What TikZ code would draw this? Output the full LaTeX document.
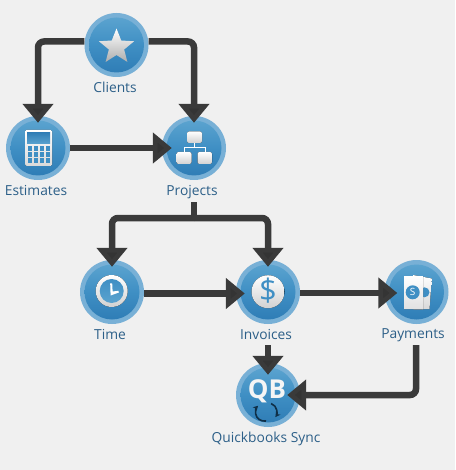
\documentclass[tikz,border=0pt]{standalone}
\usepackage{fontspec}
\setmainfont{Open Sans}
\usetikzlibrary{arrows.meta,shapes.geometric,calc}
\definecolor{bgc}{HTML}{F0F0F0}
\definecolor{ringc}{HTML}{78B0D6}
\definecolor{topc}{HTML}{5AA3CF}
\definecolor{botc}{HTML}{2F7DB6}
\definecolor{linec}{HTML}{3A3A3A}
\definecolor{tipc}{HTML}{343434}
\definecolor{labc}{HTML}{2C5F88}
\definecolor{iconb}{HTML}{3F8FC4}
\definecolor{navy}{HTML}{0F2F47}
\tikzset{
  ring/.style={circle,minimum size=64pt,inner sep=0pt,fill=ringc},
  core/.style={circle,minimum size=55pt,inner sep=0pt,top color=topc,bottom color=botc,middle color=iconb},
  lab/.style={text=labc,font=\fontsize{13.8}{15}\selectfont,inner sep=0pt,text height=10pt,text depth=3pt},
  conn/.style={draw=linec,line width=6.5pt,rounded corners=6pt,-{Triangle[length=19pt,width=30pt,fill=tipc]}},
  plain/.style={draw=linec,line width=6.5pt,rounded corners=6pt},
  whiteicon/.style={top color=white,bottom color=black!18},
  key/.style={fill=iconb},
  cyc/.style={draw=navy,line width=1.6pt,-{Stealth[length=5pt,width=5.5pt]}}
}
\newcommand{\disc}[3]{\node[ring] (#1) at (#2,#3) {}; \node[core] (#1c) at (#1) {};}
\begin{document}
\begin{tikzpicture}[x=1pt,y=-1pt]
\useasboundingbox (0,0) rectangle (455,470);
\fill[bgc] (0,0) rectangle (455,470);
% discs
\disc{clients}{116.5}{45}
\disc{estimates}{38}{148}
\disc{projects}{194}{148}
\disc{time}{112}{292}
\disc{invoices}{268}{292}
\disc{payments}{416.5}{292}
\disc{qb}{268}{395}
% labels
\node[lab] (clientsL) at (115,89) {Clients};
\node[lab] (estimatesL) at (36,192) {Estimates};
\node[lab] (projectsL) at (192,192) {Projects};
\node[lab] (timeL) at (110,336) {Time};
\node[lab] (invoicesL) at (266,336) {Invoices};
\node[lab] (paymentsL) at (413,335) {Payments};
\node[lab] (qbL) at (266,439) {Quickbooks Sync};
% star
\node[star,star points=5,star point ratio=2.3,minimum size=37pt,inner sep=0pt,top color=white,bottom color=black!32] (staricon) at (116.5,47) {};
% calculator
\fill[top color=white,bottom color=black!15,rounded corners=1.5pt] (25,130) rectangle (52,166);
\fill[top color=botc,bottom color=topc] (27,132.5) rectangle (50,144);
\foreach \cx in {27.5,33.5,39.5,45.5}{\foreach \cy in {146.5,152.5,158.5}{
  \fill[key] (\cx,\cy) rectangle +(4.2,4.4);}}
% org chart
\fill[whiteicon,rounded corners=2pt] (187,131.5) rectangle (202,143);
\fill[whiteicon,rounded corners=2pt] (176.5,152) rectangle (191.5,164);
\fill[whiteicon,rounded corners=2pt] (197.5,152) rectangle (212,164);
\draw[white,line width=.9pt] (194.5,143) -- (194.5,147.5) (184,152) -- (184,147.5) -- (205,147.5) -- (205,152);
% clock
\fill[whiteicon] (111.7,291) circle[radius=16pt];
\shade[top color=iconb,bottom color=topc] (111.7,291) circle[radius=12pt];
\fill[white] (110.2,283.3) -- (112.2,283.3) -- (112.6,291.5) -- (118.5,290.8) -- (118.8,292.5) -- (110.6,295.5) -- cycle;
% dollar
\fill[whiteicon] (268,291.7) circle[radius=16.5pt];
\node[text=iconb,font=\fontsize{31}{31}\selectfont,inner sep=0pt] (dollar) at (268,291) {\$};
% bills
\fill[top color=white,bottom color=black!15] (413,275) -- (431.7,278.5) -- (429.5,309) -- (415,309) -- cycle;
\fill[iconb] (424.5,292.3) circle[radius=5pt];
\fill[top color=white,bottom color=black!12] (404,276) -- (423,276) -- (423,309.5) -- (404,309) -- cycle;
\fill[iconb] (412.7,292.3) circle[radius=7pt];
\node[text=white,font=\fontsize{10}{10}\selectfont,inner sep=0pt] (billS) at (412.7,292.3) {S};
% QB
\node[font=\fontsize{26}{26}\selectfont\bfseries,inner sep=0pt,text=black!4] (qbtext) at (267,391.5) {QB};
\draw[cyc] (266,421) arc[start angle=280,end angle=135,radius=9pt];
\draw[cyc] (271.1,403.5) arc[start angle=70,end angle=-35,radius=9pt];
% connectors
\coordinate (fork) at (194,218);
\draw[conn,shorten >=-7pt] ([yshift=3.5pt]clients.west) -| (estimates.north);
\draw[conn,shorten >=-7pt] ([yshift=3.5pt]clients.east) -| (projects.north);
\draw[conn,shorten >=-10pt] (estimates.east) -- (projects.west);
\draw[plain] (fork |- projectsL.south) ++(0,3.5) -- (fork);
\draw[conn,shorten >=-7pt] (fork) -| (time.north);
\draw[conn,shorten >=-7pt] (fork) -| (invoices.north);
\draw[conn,shorten >=-9pt] ([yshift=-1.5pt]time.east) -- ([yshift=-1.5pt]invoices.west);
\draw[conn,shorten >=-13pt] ([yshift=-1pt]invoices.east) -- ([yshift=-1pt]payments.west);
\draw[conn,shorten >=-12pt] (invoices |- invoicesL.south) ++(0,2.5) -- (qb.north);
\draw[conn,shorten >=-13pt] ($(paymentsL.south)+(3,3.5)$) |- (qb.east);
\end{tikzpicture}
\end{document}
